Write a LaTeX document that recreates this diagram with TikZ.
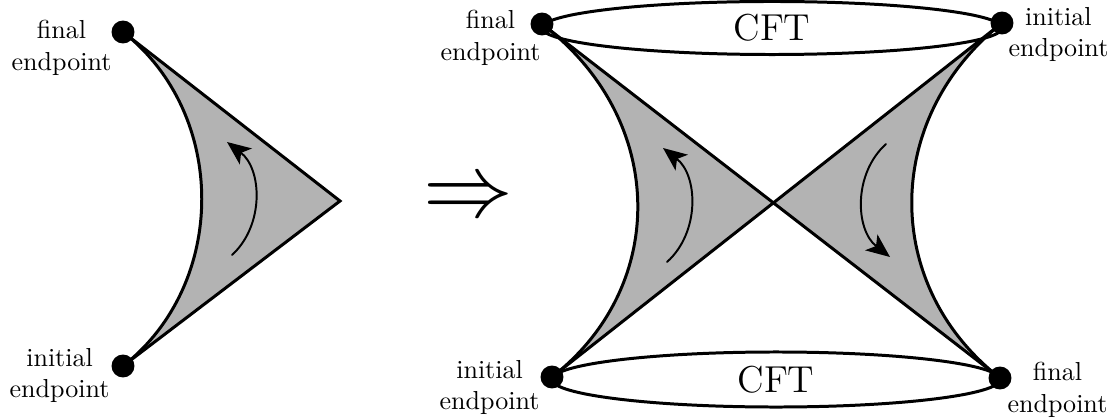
\documentclass[tikz,border=0pt]{standalone}
\usepackage{amsmath,amssymb}
\usepackage{graphicx,tikz}
\usetikzlibrary{arrows.meta,shapes.geometric}
\definecolor{wdInk}{HTML}{000000}
\definecolor{wdGray}{HTML}{B3B3B3}
\tikzset{
 wedgefig/.style={line cap=round,line join=miter,text=wdInk},
 endpt/.style={circle,fill=wdInk,inner sep=0pt,minimum size=3.1mm},
 wedge/.style={fill=wdGray},
 rim/.style={draw=wdInk,line width=1.15pt},
 flowarc/.style={draw=wdInk,line width=.75pt,-{Stealth[length=3.2mm,width=2.7mm,inset=.8mm]}},
 tag/.style={align=center,inner sep=0pt,font=\normalsize},
 cft/.style={ellipse,draw=wdInk,line width=1.15pt,inner sep=0pt,font=\Large}
}

\begin{document}
\begin{tikzpicture}[wedgefig,x=.0135cm,y=.0135cm]
 \useasboundingbox (0,0) rectangle (1116,417);
 % single wedge
 \coordinate (fin) at (123,385); \coordinate (ini) at (123,51);
 \coordinate (apex) at (340,216);
 \fill[wedge] (fin) .. controls (228,303) and (228,133) .. (ini) -- (apex) -- cycle;
 \draw[rim] (fin) .. controls (228,303) and (228,133) .. (ini);
 \draw[rim] (fin) -- (apex) -- (ini);
 \coordinate (flowS) at (232,162); \coordinate (flowE) at (227,275);
 \draw[flowarc] (flowS) to[bend right=50] (flowE);
 \node[endpt] (finDot) at (fin) {};
 \node[endpt] (iniDot) at (ini) {};
 \node[tag,anchor=north east] (finTag) at (112,397) {final\\endpoint};
 \node[tag,anchor=north east] (iniTag) at (110,69) {initial\\endpoint};
 \node[inner sep=0pt] (imply) at (468,217) {\scalebox{3.45}{$\Rightarrow$}};
 % two wedges
 \coordinate (tl) at (542,393); \coordinate (tr) at (1002,394);
 \coordinate (bl) at (552,40); \coordinate (br) at (1000,39);
 \coordinate (mid) at (intersection of tl--br and tr--bl);
 \fill[wedge] (tl) .. controls (668,297) and (668,130) .. (bl) -- (mid) -- cycle;
 \fill[wedge] (tr) .. controls (882,298) and (882,131) .. (br) -- (mid) -- cycle;
 \draw[rim] (tl) .. controls (668,297) and (668,130) .. (bl);
 \draw[rim] (tr) .. controls (882,298) and (882,131) .. (br);
 \draw[rim] (tl) -- (br);
 \draw[rim] (tr) -- (bl);
 \node[cft,minimum width=6.21cm,minimum height=.716cm] (cftTop) at (772,389) {CFT};
 \node[cft,minimum width=6.05cm,minimum height=.743cm] (cftBot) at (776,37.5) {CFT};
 \coordinate (flowLS) at (667,155); \coordinate (flowLE) at (663,269);
 \coordinate (flowRS) at (886,273); \coordinate (flowRE) at (890,160);
 \draw[flowarc] (flowLS) to[bend right=50] (flowLE);
 \draw[flowarc] (flowRS) to[bend right=50] (flowRE);
 \node[endpt] (tlDot) at (tl) {};
 \node[endpt] (trDot) at (tr) {};
 \node[endpt] (blDot) at (bl) {};
 \node[endpt] (brDot) at (br) {};
 \node[tag,anchor=north east] (tlTag) at (541,407) {final\\endpoint};
 \node[tag,anchor=north west] (trTag) at (1008,410) {initial\\endpoint};
 \node[tag,anchor=north east] (blTag) at (540,57) {initial\\endpoint};
 \node[tag,anchor=north west] (brTag) at (1007,55) {final\\endpoint};
\end{tikzpicture}
\end{document}
